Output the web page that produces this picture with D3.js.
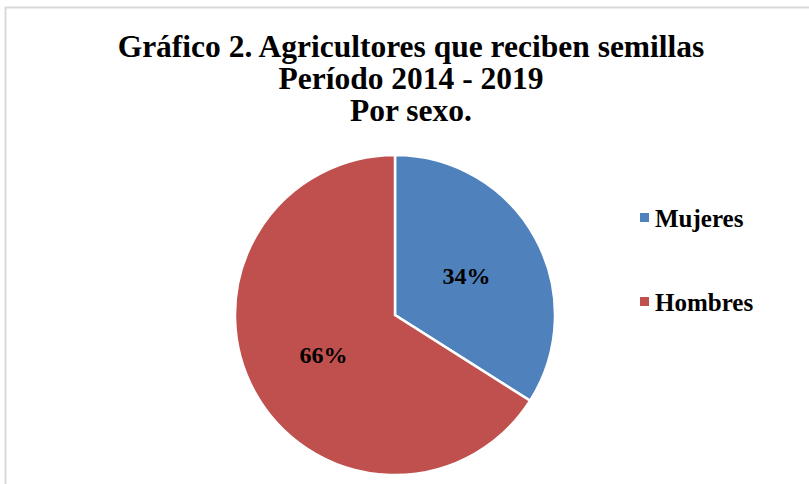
<!DOCTYPE html>
<html>
<head>
<meta charset="utf-8">
<script src="https://cdn.jsdelivr.net/npm/d3@7"></script>
<style>
  body { margin: 0; background: #fff; }
  text { font-family: "Liberation Serif", "DejaVu Serif", serif; font-weight: bold; fill: #000; }
</style>
</head>
<body>
<script>
var w = 809;
var h = 484;

var categories = ["Mujeres", "Hombres"];
var values = [34, 66];
var colors = ["#4F81BD", "#C0504D"];
var titleLines = ["Gráfico 2. Agricultores que reciben semillas", "Período 2014 - 2019", "Por sexo."];

var svg = d3.select("body").append("svg")
  .attr("width", w)
  .attr("height", h);

// chart frame (only top and left edges show in the shot)
svg.append("path")
  .attr("d", "M5.5,490 V7.5 H820")
  .attr("fill", "none")
  .attr("stroke", "#d9d9d9")
  .attr("stroke-width", 2);

// title
svg.selectAll(".title")
  .data(titleLines)
  .enter()
    .append("text")
    .attr("class", "title")
    .attr("x", 411)
    .attr("y", (d, i) => 57 + i * 32)
    .attr("text-anchor", "middle")
    .style("font-size", "31.5px")
    .text(d => d);

var cx = 395, cy = 315, r = 160;

var pie = d3.pie().sort(null).value(d => d);
var arc = d3.arc().innerRadius(0).outerRadius(r);
var labelArc = d3.arc().innerRadius(r * 0.51).outerRadius(r * 0.51);

var g = svg.append("g").attr("transform", "translate(" + cx + "," + cy + ")");

var arcs = pie(values);

g.selectAll(".slice")
  .data(arcs)
  .enter()
    .append("path")
    .attr("class", "slice")
    .attr("d", arc)
    .attr("fill", (d, i) => colors[i])
    .attr("stroke", "#fff")
    .attr("stroke-width", 2.5);

g.selectAll(".lbl")
  .data(arcs)
  .enter()
    .append("text")
    .attr("class", "lbl")
    .attr("transform", d => "translate(" + labelArc.centroid(d) + ")")
    .attr("text-anchor", "middle")
    .attr("dy", "0.35em")
    .style("font-size", "24px")
    .text(d => d.data + "%");

// legend
var legend = svg.selectAll(".leg")
  .data(categories)
  .enter()
    .append("g")
    .attr("class", "leg")
    .attr("transform", (d, i) => "translate(640," + (218 + i * 84) + ")");

legend.append("rect")
  .attr("x", 0)
  .attr("y", -5)
  .attr("width", 9)
  .attr("height", 9)
  .attr("fill", (d, i) => colors[i]);

legend.append("text")
  .attr("x", 15)
  .attr("y", 0)
  .attr("dy", "0.35em")
  .style("font-size", "25px")
  .text(d => d);
</script>
</body>
</html>
